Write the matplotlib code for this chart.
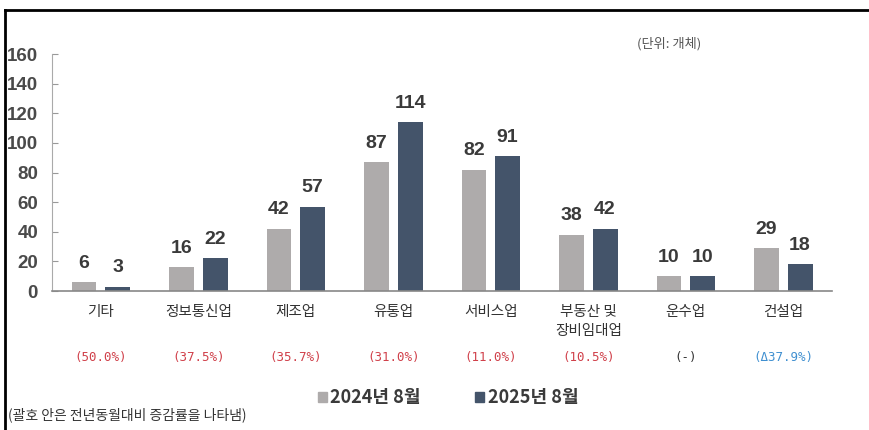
import matplotlib.pyplot as plt
from matplotlib.patches import Patch
from matplotlib import transforms

plt.rcParams['font.family'] = ['Noto Sans CJK KR', 'DejaVu Sans']

categories = ["기타", "정보통신업", "제조업", "유통업", "서비스업", "부동산 및\n장비임대업", "운수업", "건설업"]
v2024 = [6, 16, 42, 87, 82, 38, 10, 29]
v2025 = [3, 22, 57, 114, 91, 42, 10, 18]
changes = ["(50.0%)", "(37.5%)", "(35.7%)", "(31.0%)", "(11.0%)", "(10.5%)", "(-)", "(Δ37.9%)"]
change_colors = ["#d0404a"] * 6 + ["#333333", "#3f8fd0"]
yticks = [0, 20, 40, 60, 80, 100, 120, 140, 160]
series_names = ["2024년 8월", "2025년 8월"]

gray = "#aeabab"
navy = "#44546a"
num_font = ['Liberation Sans', 'DejaVu Sans']

fig = plt.figure(figsize=(8.69, 4.3), dpi=100)
ax = fig.add_axes([52 / 869, 139 / 430, 780 / 869, 237 / 430])

x = list(range(len(categories)))
w = 0.256
off = 0.172
b1 = ax.bar([i - off for i in x], v2024, w, color=gray)
b2 = ax.bar([i + off for i in x], v2025, w, color=navy)

for bars, vals in ((b1, v2024), (b2, v2025)):
    for r, v in zip(bars, vals):
        ax.text(r.get_x() + r.get_width() / 2, v + 7, str(v), ha="center", va="bottom",
                fontsize=14, fontweight="bold", color="#3a3a3a", family=num_font)

ax.set_xlim(-0.5, 7.5)
ax.set_ylim(0, 160)
ax.set_yticks(yticks)
ax.set_yticklabels([str(t) for t in yticks], fontsize=13.5, fontweight="bold",
                   color="#4a4a4a", family=num_font)
ax.tick_params(axis="y", direction="in", length=4, color="#999999", pad=10)
ax.set_xticks([])
for s in ("top", "right"):
    ax.spines[s].set_visible(False)
ax.spines["left"].set_color("#aaaaaa")
ax.spines["bottom"].set_color("#888888")
ax.spines["bottom"].set_linewidth(1.2)

trans = transforms.blended_transform_factory(ax.transData, fig.transFigure)
for i, (c, ch, cc) in enumerate(zip(categories, changes, change_colors)):
    ax.text(i, 1 - 305 / 430, c, ha="center", va="top", fontsize=10.5,
            color="#333333", transform=trans, linespacing=1.5)
    ax.text(i, 1 - 357 / 430, ch, ha="center", va="center", fontsize=9,
            color=cc, family=['DejaVu Sans Mono'], transform=trans)

fig.text(637 / 869, 1 - 44 / 430, "(단위: 개체)", fontsize=9.5, color="#555555", va="center")
fig.text(8 / 869, 1 - 415 / 430, "(괄호 안은 전년동월대비 증감률을 나타냄)", fontsize=10,
         color="#333333", va="center")

handles = [Patch(color=gray), Patch(color=navy)]
fig.legend(handles, series_names, loc="center", bbox_to_anchor=(448 / 869, 1 - 398 / 430),
           ncol=2, frameon=False, handlelength=0.5, handleheight=0.5, handletextpad=0.2,
           columnspacing=3.0, prop={'size': 13, 'weight': 'bold'}, labelcolor="#3a3a3a")

# frame lines on left and top
fig.add_artist(plt.Line2D([5 / 869, 1], [1 - 10 / 430, 1 - 10 / 430], color="black",
                          linewidth=2, transform=fig.transFigure))
fig.add_artist(plt.Line2D([5 / 869, 5 / 869], [0, 1 - 10 / 430], color="black",
                          linewidth=2, transform=fig.transFigure))

fig.savefig("out.png", dpi=100)
